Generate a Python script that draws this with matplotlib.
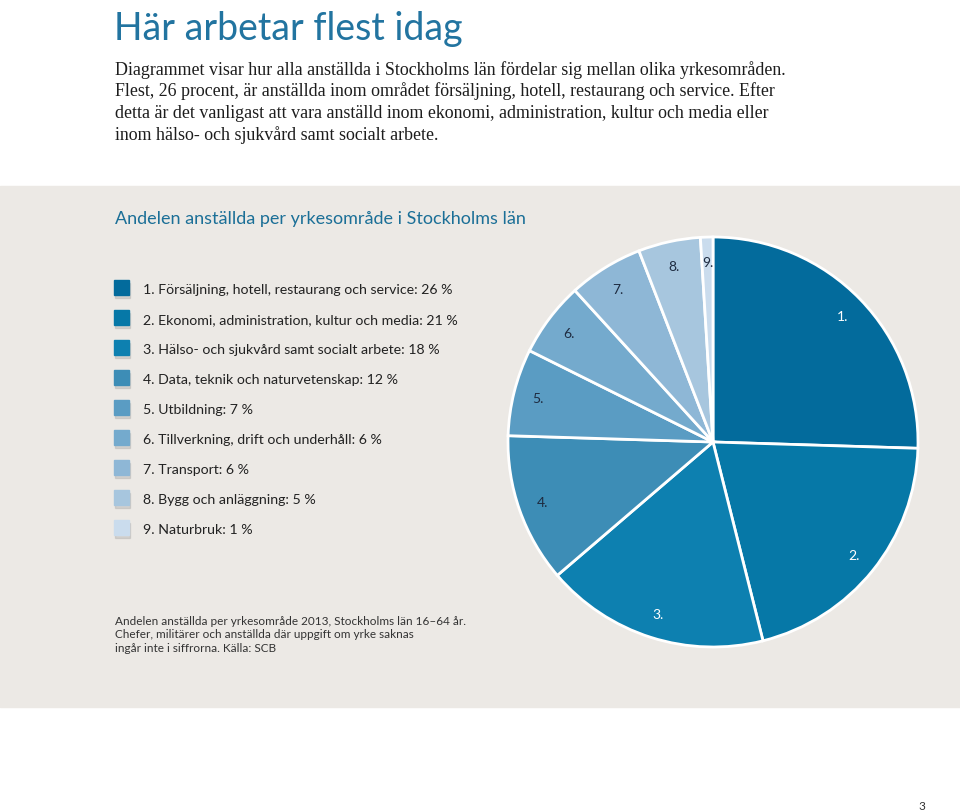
import matplotlib
matplotlib.use('Agg')
import matplotlib.pyplot as plt
from matplotlib.patches import Rectangle

W, H = 960, 812
OUT = 'out.png'

TITLE = 'Här arbetar flest idag'
INTRO = [
    'Diagrammet visar hur alla anställda i Stockholms län fördelar sig mellan olika yrkesområden.',
    'Flest, 26 procent, är anställda inom området försäljning, hotell, restaurang och service. Efter',
    'detta är det vanligast att vara anställd inom ekonomi, administration, kultur och media eller',
    'inom hälso- och sjukvård samt socialt arbete.',
]
SUBTITLE = 'Andelen anställda per yrkesområde i Stockholms län'
FOOTNOTE = [
    'Andelen anställda per yrkesområde 2013, Stockholms län 16–64 år.',
    'Chefer, militärer och anställda där uppgift om yrke saknas',
    'ingår inte i siffrorna. Källa: SCB',
]

categories = [
    'Försäljning, hotell, restaurang och service',
    'Ekonomi, administration, kultur och media',
    'Hälso- och sjukvård samt socialt arbete',
    'Data, teknik och naturvetenskap',
    'Utbildning',
    'Tillverkning, drift och underhåll',
    'Transport',
    'Bygg och anläggning',
    'Naturbruk',
]
shares = [26, 21, 18, 12, 7, 6, 6, 5, 1]
colors = ['#036b9c', '#0678a7', '#0d80b0', '#3d8db6', '#5a9cc3',
          '#74aacd', '#8eb7d6', '#a7c6de', '#cadced']
label_colors = ['white'] * 3 + ['#1e2b40'] * 6

TEAL = '#1b6f97'
PANEL = '#ece9e5'
SANS = ['Lato', 'DejaVu Sans']

fig = plt.figure(figsize=(W / 100, H / 100), dpi=100)
fig.patch.set_facecolor('white')

# page canvas in pixel coordinates
bg = fig.add_axes([0, 0, 1, 1])
bg.set_xlim(0, W)
bg.set_ylim(H, 0)
bg.axis('off')
bg.add_patch(Rectangle((0, 187), W, 521, color=PANEL, zorder=0))

bg.text(114, 40, TITLE, fontsize=27, color='#2274a0', family=SANS,
        fontweight='normal', va='baseline')
for i, line in enumerate(INTRO):
    bg.text(115, 75 + i * 21.5, line, fontsize=12.85, color='#1d1d1d',
            family=['Liberation Serif', 'DejaVu Serif'], va='baseline')

bg.text(115, 224, SUBTITLE, fontsize=13, color=TEAL, family=SANS, va='baseline')

for i, (cat, val) in enumerate(zip(categories, shares)):
    y = 289 + i * 30
    # soft shadow, then the swatch
    bg.add_patch(Rectangle((115, y - 5), 15, 15, color='#9a9a9a', alpha=0.3, zorder=1))
    bg.add_patch(Rectangle((114, y - 8), 15, 15, color=colors[i], zorder=2))
    bg.text(143, y + 5, f'{i + 1}. {cat}: {val} %', fontsize=10.2,
            color='#222222', family=SANS, va='baseline')

for i, line in enumerate(FOOTNOTE):
    bg.text(115, 625 + i * 13.3, line, fontsize=8.5, color='#333333',
            family=SANS, va='baseline')

bg.text(922, 810, '3', fontsize=8.5, color='#333333', family=SANS,
        ha='center', va='baseline')

# pie: centre (713, 443), radius 205 px
cx, cy, r = 713, 443, 205
ax = fig.add_axes([(cx - r) / W, (H - cy - r) / H, 2 * r / W, 2 * r / H])
wedges, texts = ax.pie(
    shares, colors=colors, startangle=90, counterclock=False,
    labels=[f'{i + 1}.' for i in range(len(shares))], labeldistance=0.88,
    wedgeprops=dict(edgecolor='white', linewidth=2),
    textprops=dict(fontsize=10, family=SANS),
)
for t, c in zip(texts, label_colors):
    t.set_color(c)
    t.set_ha('center')
    t.set_va('center')
ax.set_xlim(-1, 1)
ax.set_ylim(-1, 1)
ax.set_aspect('equal')

fig.savefig(OUT, dpi=100, facecolor=fig.get_facecolor())
